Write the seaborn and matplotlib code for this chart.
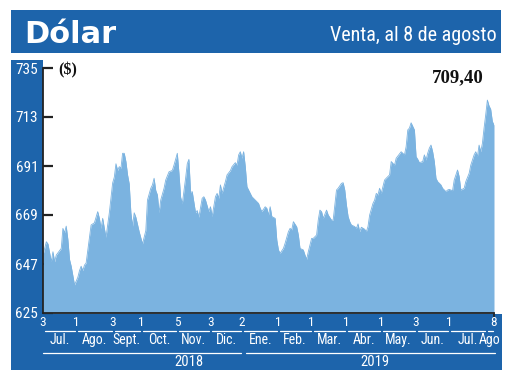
import numpy as np
import matplotlib
matplotlib.use("Agg")
import matplotlib.pyplot as plt
import seaborn as sns
from matplotlib import font_manager as fm
from matplotlib.patches import Rectangle
from matplotlib.lines import Line2D
from matplotlib.transforms import blended_transform_factory

# ---------------- data ----------------
start_date = "2018-07-03"
end_date = "2019-08-08"
cl_holidays = ["2018-07-16", "2018-08-15", "2018-09-17", "2018-09-18", "2018-09-19",
               "2018-10-15", "2018-11-01", "2018-11-02", "2018-12-25", "2018-12-31",
               "2019-01-01", "2019-04-19", "2019-05-01", "2019-05-21", "2019-07-16"]
month_starts = ["2018-07-03", "2018-08-01", "2018-09-03", "2018-10-01", "2018-11-05",
                "2018-12-03", "2019-01-02", "2019-02-01", "2019-03-01", "2019-04-01",
                "2019-05-02", "2019-06-03", "2019-07-01", "2019-08-01"]
day_labels = ["3", "1", "3", "1", "5", "3", "2", "1", "1", "1", "1", "3", "1", "8"]
month_labels = ["Jul.", "Ago.", "Sept.", "Oct.", "Nov.", "Dic.", "Ene.", "Feb.",
                "Mar.", "Abr.", "May.", "Jun.", "Jul.", "Ago"]
year_labels = ["2018", "2019"]
y_ticks = [625, 647, 669, 691, 713, 735]

# trading session number (0 = 3 jul 2018) and dollar sale price
sessions = [0, 2, 3, 5, 6, 7, 8, 10, 11, 12, 13, 14, 15, 16, 17, 19, 21, 22, 23, 24,
            25, 26, 28, 29, 31, 33, 34, 35, 36, 37, 38, 40, 42, 43, 44, 45, 46, 47, 48, 49,
            50, 51, 52, 53, 54, 55, 56, 58, 60, 61, 62, 63, 65, 66, 67, 68, 69, 70, 71, 73,
            74, 76, 78, 79, 81, 82, 83, 84, 86, 87, 88, 89, 90, 92, 93, 94, 96, 97, 98, 100,
            101, 102, 104, 105, 106, 107, 108, 110, 111, 113, 114, 116, 117, 118, 119, 120, 121, 122, 123, 124,
            126, 128, 130, 131, 132, 134, 135, 136, 137, 138, 140, 141, 142, 143, 145, 146, 148, 149, 150, 151,
            153, 154, 155, 157, 158, 159, 160, 162, 163, 165, 166, 167, 168, 169, 171, 172, 174, 175, 177, 178,
            180, 181, 182, 183, 184, 185, 186, 188, 189, 190, 191, 192, 194, 195, 196, 197, 199, 200, 201, 202,
            203, 204, 206, 207, 209, 210, 212, 213, 215, 216, 218, 219, 220, 221, 222, 224, 225, 226, 227, 229,
            230, 231, 232, 233, 234, 235, 236, 237, 238, 240, 241, 243, 244, 245, 247, 248, 250, 251, 252, 254,
            255, 257, 258, 259, 260, 261, 262, 263, 264, 265, 266, 267, 268, 269, 270, 271, 272]
values = [651, 657, 656, 648, 652.5, 648, 651, 653, 654, 663, 661, 664, 658, 649, 646, 637.6, 641, 644, 646, 644,
          646.5, 647.4, 659, 664.5, 665.5, 670.5, 667.5, 663, 667.5, 663, 659, 670, 683.4, 686, 692, 689, 690.7, 690, 696.7, 696.7,
          693, 687, 683, 670, 664, 670, 668, 661.5, 656, 659, 662, 675.7, 681, 682.5, 685.5, 680, 678, 670, 675.7, 681,
          684.7, 688.4, 689, 691.4, 696.7, 687.7, 677, 674, 685.5, 692, 694, 679, 679.5, 670, 671, 668, 676.5, 677.2, 675.7, 670.5,
          672.7, 668.3, 677.2, 678.7, 676.5, 682.5, 678.7, 684, 687, 688.9, 690.7, 692.5, 691.4, 696, 697.4, 694.5, 697.4, 690.7, 681.7, 680.2,
          677.2, 675.7, 674.2, 672, 670.5, 672.7, 672, 669, 672.7, 668.3, 667.5, 657.8, 653.3, 651.8, 654, 656.3, 661.5, 663, 662.3, 666,
          663.7, 660, 654, 653.3, 651, 649.1, 652.5, 658.5, 658.5, 660, 666.7, 671.2, 670.5, 667.5, 671.2, 669, 666.7, 666.7, 680.2, 681,
          683.2, 683.5, 680.2, 673.5, 668.3, 666, 664.5, 663.8, 663, 665, 661.5, 663.5, 662.6, 661.5, 663.8, 669, 674.2, 675.7, 678.7, 678,
          681, 678.7, 684.7, 685.5, 687, 693, 691.4, 694.5, 696.4, 697.4, 696, 699.7, 707.2, 708, 710.4, 707.2, 695.2, 694, 692.5, 693,
          696, 693.7, 696.7, 699, 700.4, 697.4, 693, 685.5, 684, 682.5, 681, 679.5, 680.2, 680.5, 679.9, 684.7, 689.2, 686.2, 680.2, 681,
          684, 687.7, 691.4, 693.7, 696, 697.4, 695.2, 700.4, 697.4, 701.2, 708, 714, 720.6, 718, 716.5, 711, 709.4]

# ---------------- style ----------------
sns.set_theme(style="white")


def pick(names):
    for n in names:
        try:
            fm.findfont(fm.FontProperties(family=n), fallback_to_default=False)
            return n
        except Exception:
            pass
    return "DejaVu Sans"


COND = pick(["Liberation Sans Narrow", "DejaVu Sans Condensed", "Roboto Condensed", "Open Sans Condensed"])
SERIF = pick(["Liberation Serif", "DejaVu Serif"])
plt.rcParams["font.family"] = ["DejaVu Sans"]

BLUE = "#1d64ab"
FILL = "#7bb3e0"
W, H = 520, 390


def fx(px):
    return px / W


def fy(py):
    return 1 - py / H


fig = plt.figure(figsize=(5.2, 3.9), dpi=100)
ax = fig.add_axes([fx(43), fy(313), fx(494) - fx(43), fy(68) - fy(313)])
ax.patch.set_alpha(0)

# blue frame pieces
for (x0, y0, x1, y1) in [(11, 10, 501, 53), (11, 60, 43, 370), (11, 314, 502, 370)]:
    fig.add_artist(Rectangle((fx(x0), fy(y1)), fx(x1) - fx(x0), fy(y0) - fy(y1),
                             transform=fig.transFigure, facecolor=BLUE, edgecolor="none", zorder=-5))

# series
sns.lineplot(x=sessions, y=values, ax=ax, color=FILL, linewidth=0.6)
ax.fill_between(sessions, values, y_ticks[0], color=FILL, linewidth=0)

# positions of calendar marks in trading sessions
bounds = [int(np.busday_count(start_date, d, holidays=cl_holidays)) for d in month_starts]
end_s = int(np.busday_count(start_date, end_date, holidays=cl_holidays))
bounds_all = bounds + [end_s]
day_pos = bounds[:-1] + [end_s]

ax.set_xlim(0, end_s)
ax.set_ylim(y_ticks[0], y_ticks[-1])
ax.set_yticks(y_ticks)
ax.set_yticklabels([str(v) for v in y_ticks], color="white", fontsize=11, family=COND)
ax.tick_params(axis="y", direction="in", length=7.5, width=1.6, color="#222222", pad=3.5, left=True)
ax.set_xticks([end_s])
ax.set_xticklabels([""])
ax.tick_params(axis="x", direction="out", length=3, width=1.2, color="#222222", bottom=True)
for side in ["top", "right"]:
    ax.spines[side].set_visible(False)
for side in ["left", "bottom"]:
    ax.spines[side].set_color("#222222")
    ax.spines[side].set_linewidth(1.3)
ax.set_xlabel("")
ax.set_ylabel("")
ax.grid(False)

# bottom calendar labels
tr = blended_transform_factory(ax.transData, fig.transFigure)
for p, lab in zip(day_pos, day_labels):
    fig.text(p, fy(323), lab, transform=tr, ha="center", va="center",
             color="white", fontsize=9.5, family=COND)
for i, lab in enumerate(month_labels):
    a, b = bounds_all[i], bounds_all[i + 1]
    fig.add_artist(Line2D([a + 1.2, b - 0.6], [fy(330.5)] * 2, transform=tr,
                          color="white", linewidth=0.9))
    fig.text((a + b) / 2, fy(340), lab, transform=tr, ha="center", va="center",
             color="white", fontsize=10, family=COND)
jan = bounds[6]
fig.add_artist(Line2D([0, jan - 0.6], [fy(353)] * 2, transform=tr, color="white", linewidth=0.9))
fig.add_artist(Line2D([jan + 2.5, end_s + 0.5], [fy(353)] * 2, transform=tr, color="white", linewidth=0.9))
fig.text(88, fy(362), year_labels[0], transform=tr, ha="center", va="center",
         color="white", fontsize=10.5, family=COND)
fig.text(200, fy(362), year_labels[1], transform=tr, ha="center", va="center",
         color="white", fontsize=10.5, family=COND)

# header
fig.text(fx(24), fy(43), "Dólar", color="white", fontsize=22, family="DejaVu Sans",
         weight="bold", ha="left", va="baseline")
fig.text(fx(497), fy(41), "Venta, al 8 de agosto", color="white", fontsize=14.5,
         family=COND, ha="right", va="baseline")

# labels inside plot
fig.text(fx(58), fy(70), "($)", color="#111111", fontsize=11.5, family=SERIF,
         weight="bold", ha="left", va="center")
last_txt = f"{values[-1]:.2f}".replace(".", ",")
ax.annotate(last_txt, xy=(250, 730.5), ha="center", va="center", fontsize=13.5,
            family=SERIF, weight="bold", color="#111111")

fig.savefig("out.png", dpi=100)
